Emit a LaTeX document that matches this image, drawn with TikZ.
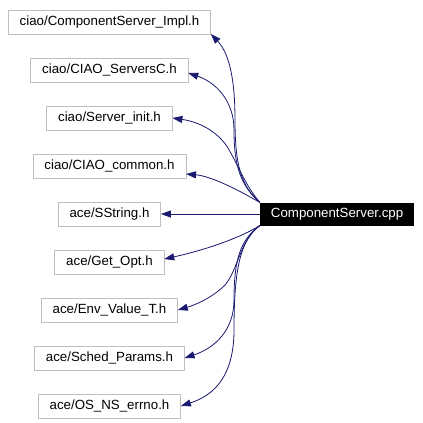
\documentclass[tikz,border=0pt]{standalone}
\usepackage{fontspec}
\setmainfont{Liberation Sans}
\usetikzlibrary{arrows.meta,positioning}
\definecolor{edgeblue}{HTML}{191970}
\definecolor{boxgray}{HTML}{BFBFBF}

\begin{document}
\begin{tikzpicture}[
    x=1pt, y=-1pt,
    >={Triangle[length=10pt,width=7pt]},
    hdr/.style={draw=boxgray, line width=0.9pt, minimum height=24pt, inner xsep=11.5pt, outer sep=0pt},
    src/.style={fill=black, text=white, minimum height=23pt, inner xsep=11pt, outer sep=0pt},
    dep/.style={->, color=edgeblue, line width=0.8pt},
    every node/.style={font=\fontsize{13.3}{16}\selectfont}
  ]
  \useasboundingbox (0,0) rectangle (423,423);
  \node[hdr] (impl) at (109.5,22) {ciao/ComponentServer\_Impl.h};
  \node[hdr, below=24pt of impl] (srvc) {ciao/CIAO\_ServersC.h};
  \node[hdr, below=24pt of srvc] (sinit) {ciao/Server\_init.h};
  \node[hdr, below=24pt of sinit] (cmn) {ciao/CIAO\_common.h};
  \node[hdr, below=24pt of cmn] (sstr) {ace/SString.h};
  \node[hdr, below=24pt of sstr] (getopt) {ace/Get\_Opt.h};
  \node[hdr, below=24pt of getopt] (envval) {ace/Env\_Value\_T.h};
  \node[hdr, below=24pt of envval] (sched) {ace/Sched\_Params.h};
  \node[hdr, below=24pt of sched] (errno) {ace/OS\_NS\_errno.h};
  \node[src, right=99pt of sstr] (main) {ComponentServer.cpp};

  % upper headers
  \draw[dep] (main.north west) .. controls (241,186) and (235,165) .. (235,120) .. controls (235,75) and (228,52) .. (impl.south east);
  \draw[dep] (main.north west) .. controls (240,185) and (234,165) .. (234,130) .. controls (234,100) and (215,82) .. ([yshift=-3pt]srvc.east);
  \draw[dep] (main.north west) .. controls (245,185) and (238,165) .. (228,148) .. controls (218,132) and (200,122) .. (sinit.east);
  \draw[dep] (main.north west) .. controls (235,188) and (210,176) .. ([yshift=-8pt]cmn.east);
  \draw[dep] (main.west) -- (sstr.east);
  % lower headers
  \draw[dep] (main.south west) .. controls (240,238) and (205,250) .. ([yshift=3pt]getopt.east);
  \draw[dep] (main.south west) .. controls (240,240) and (238,270) .. (225,285) .. controls (212,298) and (195,305) .. (envval.east);
  \draw[dep] (main.south west) .. controls (240,240) and (234,260) .. (234,300) .. controls (234,330) and (215,348) .. (sched.east);
  \draw[dep] (main.south west) .. controls (240,240) and (234,270) .. (234,330) .. controls (234,375) and (215,395) .. (errno.east);
\end{tikzpicture}
\end{document}
